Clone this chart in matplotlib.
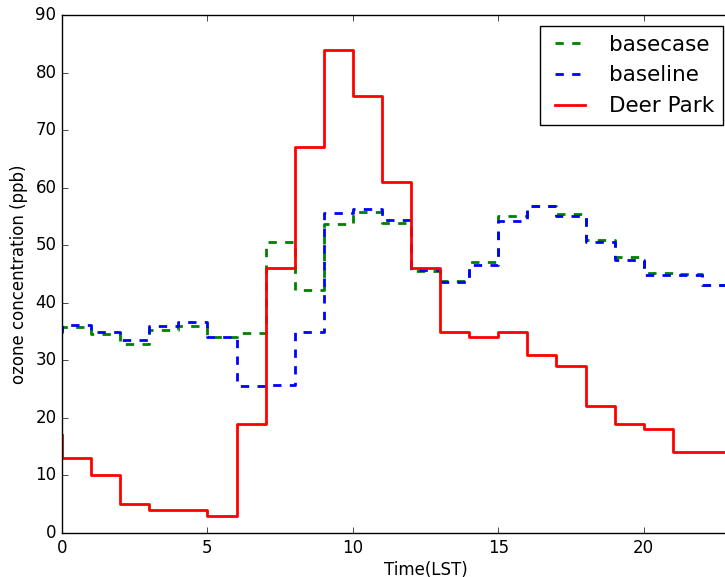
import numpy as np
import matplotlib
matplotlib.use("Agg")
import matplotlib.pyplot as plt

plt.style.use("classic")

# hourly ozone, steps drawn with "pre" so value i covers hour (i-1, i]
hours = np.arange(24)
basecase = [35.3, 35.8, 34.5, 32.8, 35.2, 36.0, 34.0, 34.8, 50.5, 42.3, 53.7, 55.8,
            53.9, 45.5, 43.8, 47.0, 55.1, 56.8, 55.4, 50.9, 48.0, 45.1, 45.0, 43.1]
baseline = [34.8, 36.2, 35.0, 33.6, 35.9, 36.6, 34.1, 25.5, 25.7, 35.0, 55.6, 56.3,
            54.4, 45.7, 43.6, 46.6, 54.2, 56.8, 55.1, 50.5, 47.4, 44.8, 44.8, 43.0]
deer_park = [17, 13, 10, 5, 4, 4, 3, 19, 46, 67, 84, 76,
             61, 46, 35, 34, 35, 31, 29, 22, 19, 18, 14, 14]

fig = plt.figure(figsize=(7.25, 5.77), dpi=100, facecolor="white")
ax = fig.add_axes([0.0855, 0.0763, 1.003, 0.8977])

ax.plot(hours, basecase, "g--", drawstyle="steps", lw=2, label="basecase")
ax.plot(hours, baseline, "b--", drawstyle="steps", lw=2, label="baseline")
ax.plot(hours, deer_park, "r-", drawstyle="steps", lw=2, label="Deer Park")

ax.set_xlim(0, 25)
ax.set_ylim(0, 90)
ax.set_xticks([0, 5, 10, 15, 20])
ax.set_yticks(np.arange(0, 91, 10))
ax.set_xlabel("Time(LST)", labelpad=3)
ax.set_ylabel("ozone concentration (ppb)")

ax.legend(loc="upper right", bbox_to_anchor=(722.5 / 725, 1 - 26 / 577),
          bbox_transform=fig.transFigure, borderaxespad=0, fontsize=15.5)

fig.savefig("out.png", dpi=100, facecolor="white")
